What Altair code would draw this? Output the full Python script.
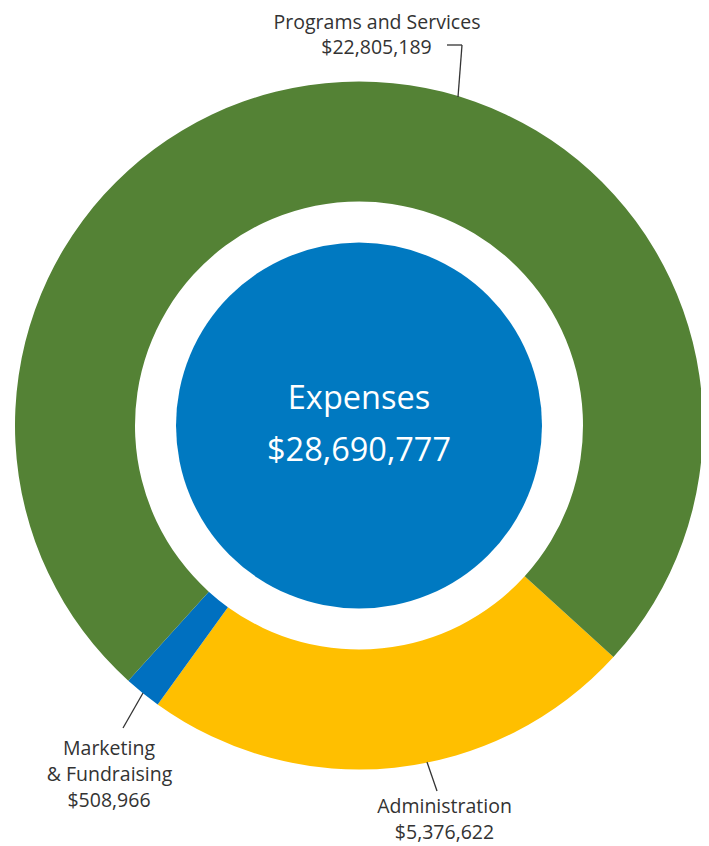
import math
import altair as alt
import pandas as pd

# ---- data ----
categories = ["Administration", "Marketing & Fundraising", "Programs and Services"]
amounts = ["$5,376,622", "$508,966", "$22,805,189"]
# slice sizes as drawn in the picture (percent of the ring)
slice_share = [23.2, 1.75, 75.05]
slice_order = [1, 2, 3]
colors = ["#FFBF00", "#0070C0", "#548235"]
total_title = "Expenses"
total_amount = "$28,690,777"

df = pd.DataFrame({
    "category": categories,
    "share": slice_share,
    "order": slice_order,
})

FONT = "Open Sans"
W, H = 693, 838
CX, CY = 351, 417.5
start = math.radians(132.3)

ring = alt.Chart(df).mark_arc(outerRadius=344, innerRadius=224).encode(
    x=alt.value(CX),
    y=alt.value(CY),
    theta=alt.Theta("share:Q", stack=True,
                    scale=alt.Scale(range=[start, start + 2 * math.pi])),
    order=alt.Order("order:Q"),
    color=alt.Color("category:N",
                    scale=alt.Scale(domain=categories, range=colors),
                    legend=None),
)

center_df = pd.DataFrame({"label": [total_title]})
center = alt.Chart(center_df).mark_arc(outerRadius=183, innerRadius=0,
                                        theta=0, theta2=2 * math.pi,
                                        color="#0079C1").encode(
    x=alt.value(CX), y=alt.value(CY))

center_text = alt.Chart(pd.DataFrame({
    "t": [total_title, total_amount],
    "px": [CX, CX],
    "py": [401, 453],
})).mark_text(font=FONT, fontSize=32.5, color="white", baseline="alphabetic",
              align="center").encode(
    x=alt.X("px:Q", scale=None), y=alt.Y("py:Q", scale=None), text="t:N")

labels_df = pd.DataFrame({
    "t": ["Programs and Services", amounts[2],
          "Marketing", "& Fundraising", amounts[1],
          "Administration", amounts[0]],
    "px": [369, 368.5, 101, 101.5, 101, 436.5, 436.5],
    "py": [21, 46, 747, 772.5, 798.5, 805, 830.5],
})
labels = alt.Chart(labels_df).mark_text(font=FONT, fontSize=19.5, color="#333333",
                                        baseline="alphabetic", align="center").encode(
    x=alt.X("px:Q", scale=None), y=alt.Y("py:Q", scale=None), text="t:N")

lines_df = pd.DataFrame({
    "x1": [439, 454, 135, 419],
    "y1": [37, 37, 685, 754],
    "x2": [454, 450, 115, 429],
    "y2": [37, 89, 720, 783],
})
leaders = alt.Chart(lines_df).mark_rule(color="#333333", strokeWidth=1.3).encode(
    x=alt.X("x1:Q", scale=None), y=alt.Y("y1:Q", scale=None),
    x2="x2:Q", y2="y2:Q")

chart = alt.layer(ring, center, center_text, labels, leaders).properties(
    width=W, height=H, padding=0, autosize=alt.AutoSizeParams(type="none"),
    background="white",
).configure_view(stroke=None)

chart.save("out.html", embed_options={"renderer": "svg", "actions": False})
